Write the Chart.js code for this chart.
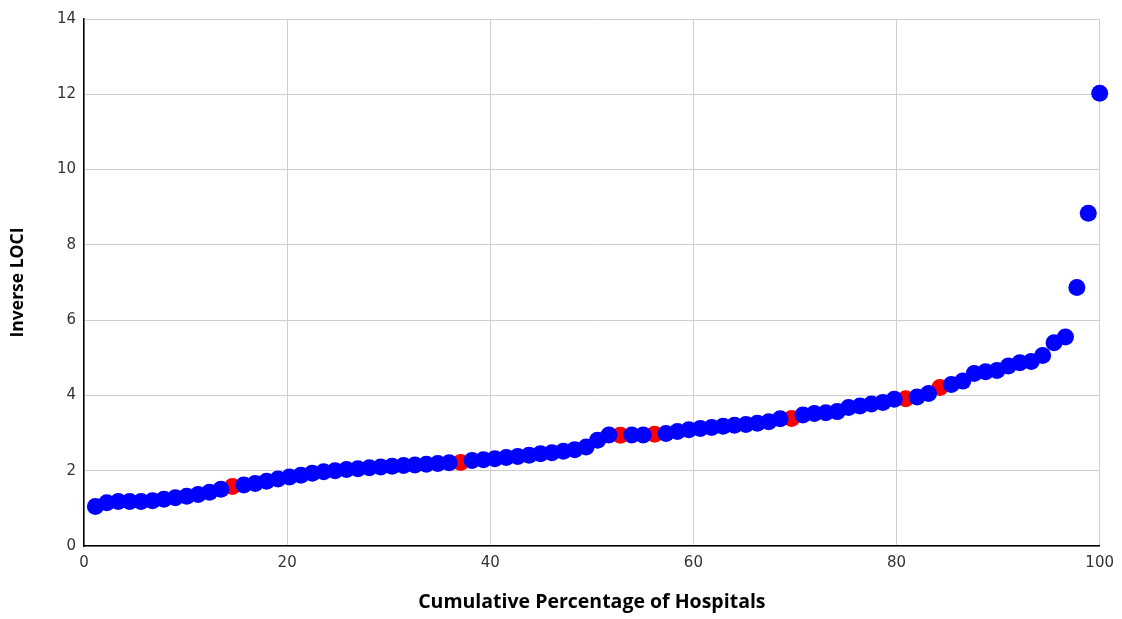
<!DOCTYPE html>
<html>
<head>
<meta charset="utf-8">
<script src="https://cdn.jsdelivr.net/npm/chart.js@4"></script>
<style>
  html, body { margin: 0; padding: 0; background: #fff; }
  #wrap { width: 1122px; height: 619px; }
</style>
</head>
<body>
<div id="wrap"><canvas id="lociChart"></canvas></div>
<script>
// Inverse LOCI per hospital, sorted ascending (rank 1..89)
const inverseLoci = [
  1.05, 1.15, 1.18, 1.18, 1.18, 1.20, 1.24, 1.28, 1.32, 1.37,
  1.43, 1.51, 1.58, 1.62, 1.66, 1.72, 1.78, 1.83, 1.88, 1.93,
  1.97, 2.00, 2.03, 2.05, 2.08, 2.10, 2.12, 2.14, 2.15, 2.17,
  2.19, 2.21, 2.22, 2.27, 2.29, 2.32, 2.35, 2.38, 2.41, 2.45,
  2.48, 2.52, 2.56, 2.63, 2.81, 2.95, 2.94, 2.95, 2.95, 2.97,
  2.99, 3.04, 3.09, 3.12, 3.15, 3.18, 3.21, 3.23, 3.26, 3.30,
  3.38, 3.39, 3.48, 3.52, 3.54, 3.57, 3.68, 3.72, 3.77, 3.81,
  3.90, 3.91, 3.96, 4.05, 4.21, 4.29, 4.38, 4.58, 4.63, 4.66,
  4.78, 4.87, 4.90, 5.06, 5.40, 5.55, 6.87, 8.84, 12.03
];

// ranks (1-based) of the highlighted hospitals
const highlightedRanks = [13, 33, 47, 50, 62, 72, 75];

const xTitle = 'Cumulative Percentage of Hospitals';
const yTitle = 'Inverse LOCI';

const total = inverseLoci.length;
const bluePoints = [], redPoints = [];
inverseLoci.forEach((v, i) => {
    const rank = i + 1;
    const pt = { x: rank * 100 / total, y: v };
    if (highlightedRanks.includes(rank)) redPoints.push(pt);
    else bluePoints.push(pt);
});

const tickFont = { family: 'DejaVu Sans', size: 15 };

new Chart(document.getElementById('lociChart'), {
    type: 'scatter',
    data: {
        datasets: [
            {
                label: 'Hospitals',
                data: bluePoints,
                backgroundColor: '#0000ff',
                borderWidth: 0,
                pointRadius: 8.5,
                pointHoverRadius: 8.5,
                clip: false
            },
            {
                label: 'Highlighted',
                data: redPoints,
                backgroundColor: '#ff0000',
                borderWidth: 0,
                pointRadius: 8.5,
                pointHoverRadius: 8.5,
                clip: false
            }
        ]
    },
    options: {
        responsive: true,
        maintainAspectRatio: false,
        animation: false,
        layout: { padding: { top: 19, right: 20, left: 0, bottom: 0 } },
        plugins: {
            legend: { display: false },
            tooltip: { enabled: false }
        },
        scales: {
            x: {
                type: 'linear',
                min: 0,
                max: 100,
                ticks: { stepSize: 20, color: '#333', font: tickFont, padding: 8 },
                grid: { color: '#cfcfcf', drawTicks: false },
                border: { color: '#000', width: 1.5 },
                title: { display: true, text: xTitle, color: '#000', font: { family: 'Open Sans', size: 19.5, weight: 'bold' }, padding: { top: 4, bottom: 5 } },
                afterFit: (scale) => { scale.height = 73; }
            },
            y: {
                min: 0,
                max: 14,
                ticks: { stepSize: 2, color: '#333', font: tickFont, padding: 8 },
                grid: { color: '#cfcfcf', drawTicks: false },
                border: { color: '#000', width: 1.5 },
                title: { display: true, text: yTitle, color: '#000', font: { family: 'Open Sans', size: 17.5, weight: 'bold' }, padding: { top: 8, bottom: 4 } },
                afterFit: (scale) => { scale.width = 84; }
            }
        }
    }
});
</script>
</body>
</html>
